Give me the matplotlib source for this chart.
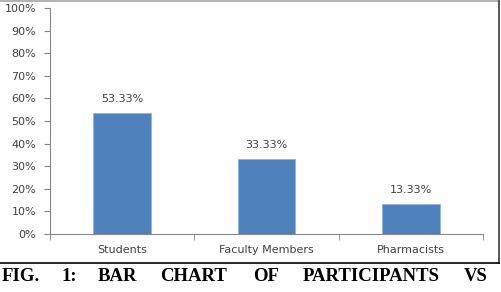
import matplotlib.pyplot as plt
from matplotlib.lines import Line2D
from matplotlib.ticker import PercentFormatter

# data
categories = ['Students', 'Faculty Members', 'Pharmacists']
percent = [53.33, 33.33, 13.33]
yticks = list(range(0, 101, 10))
caption_words = ['FIG.', '1:', 'BAR', 'CHART', 'OF', 'PARTICIPANTS', 'VS']

fig = plt.figure(figsize=(5.02, 2.92), dpi=100)
ax = fig.add_axes([0.0996, 0.1986, 0.8630, 0.7740])

x = list(range(len(categories)))
ax.bar(x, percent, width=0.4, color='#4f81bd', edgecolor='#8db3e2', linewidth=0.6)

for xi, v in zip(x, percent):
    ax.text(xi, v + 4, f'{v:.2f}%', ha='center', va='bottom',
            fontsize=8, color='#404040')

ax.set_xlim(-0.5, len(categories) - 0.5)
ax.set_ylim(0, 100)
ax.set_yticks(yticks)
ax.yaxis.set_major_formatter(PercentFormatter(decimals=0))
ax.set_xticks(x)
ax.set_xticklabels(categories)
ax.set_xticks([i - 0.5 for i in range(len(categories) + 1)], minor=True)
ax.tick_params(axis='x', which='major', length=0, pad=8, labelsize=8, labelcolor='#404040')
ax.tick_params(axis='x', which='minor', length=4, direction='out', color='#868686')
ax.tick_params(axis='y', length=4, color='#868686', labelsize=8, labelcolor='#404040', pad=6)

for side in ['top', 'right']:
    ax.spines[side].set_visible(False)
for side in ['left', 'bottom']:
    ax.spines[side].set_color('#868686')
    ax.spines[side].set_linewidth(0.8)

# frame of the pasted chart
fig.add_artist(Line2D([0, 0.995], [0.998, 0.998], color='#a6a6a6', lw=1.2, transform=fig.transFigure))
fig.add_artist(Line2D([0.995, 0.995], [0.998, 0.099], color='#555555', lw=1.4, transform=fig.transFigure))
fig.add_artist(Line2D([0, 0.995], [0.099, 0.099], color='black', lw=1.2, transform=fig.transFigure))

# justified caption
word_x = [2, 62, 98, 160, 253, 303, 464]
for w, wx in zip(caption_words, word_x):
    fig.text(wx / 502, 1 - 281 / 292, w, ha='left', va='baseline',
             fontsize=13.5, fontweight='bold', family='Liberation Serif')

fig.savefig('out.png', dpi=100)
